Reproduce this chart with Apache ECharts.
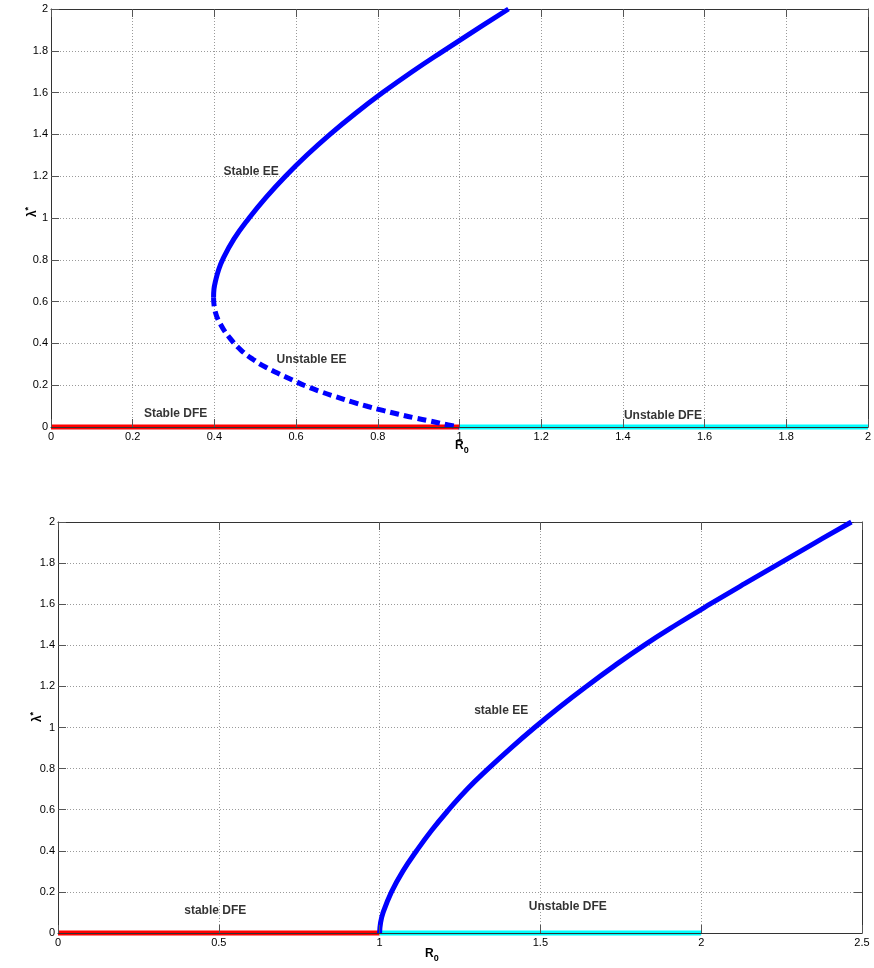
<!DOCTYPE html>
<html>
<head>
<meta charset="utf-8">
<script src="https://cdn.jsdelivr.net/npm/echarts@6/dist/echarts.min.js"></script>
<style>
  html, body { margin: 0; padding: 0; background: #fff; }
  #chart { width: 874px; height: 968px; }
</style>
</head>
<body>
<div id="chart"></div>
<script>
// ---- Upper panel: backward bifurcation ----
const topXTicks = { min: 0, max: 2, interval: 0.2 };
const topYTicks = { min: 0, max: 2, interval: 0.2 };

// stable endemic branch (from the turning point upward)
const topStableR0  = [0.398, 0.399, 0.403, 0.410, 0.420, 0.448, 0.485, 0.527, 0.574, 0.626, 0.683, 0.745, 0.812, 0.884, 0.961, 1.040, 1.120];
const topStableLam = [0.620, 0.660, 0.700, 0.750, 0.800, 0.900, 1.000, 1.100, 1.200, 1.300, 1.400, 1.500, 1.600, 1.700, 1.800, 1.900, 2.000];

// unstable endemic branch (from the turning point down to R0 = 1)
const topUnstableR0  = [0.398, 0.402, 0.416, 0.438, 0.465, 0.495, 0.526, 0.559, 0.591, 0.624, 0.656, 0.697, 0.737, 0.776, 0.815, 0.851, 0.889, 0.929, 0.965, 1.000];
const topUnstableLam = [0.620, 0.552, 0.488, 0.425, 0.368, 0.323, 0.286, 0.254, 0.225, 0.196, 0.172, 0.145, 0.120, 0.098, 0.078, 0.061, 0.044, 0.028, 0.013, 0.000];

// disease-free equilibrium
const topDfeStableR0   = [0, 1];
const topDfeUnstableR0 = [1, 2];
const dfeLam = [0, 0];

const topNoteText = ['Stable EE', 'Unstable EE', 'Stable DFE', 'Unstable DFE'];
const topNoteR0   = [0.490, 0.638, 0.305, 1.498];
const topNoteLam  = [1.221, 0.324, 0.062, 0.053];

// ---- Lower panel: forward bifurcation ----
const botXTicks = { min: 0, max: 2.5, interval: 0.5 };
const botYTicks = { min: 0, max: 2, interval: 0.2 };

const botStableR0  = [1.000, 1.003, 1.011, 1.037, 1.072, 1.115, 1.162, 1.215, 1.272, 1.338, 1.408, 1.482, 1.560, 1.643, 1.730, 1.822, 1.922, 2.027, 2.135, 2.245, 2.355, 2.467];
const botStableLam = [0.000, 0.050, 0.100, 0.200, 0.300, 0.400, 0.500, 0.600, 0.700, 0.800, 0.900, 1.000, 1.100, 1.200, 1.300, 1.400, 1.500, 1.600, 1.700, 1.800, 1.900, 2.000];

const botDfeStableR0   = [0, 1];
const botDfeUnstableR0 = [1, 2];

const botNoteText = ['stable EE', 'stable DFE', 'Unstable DFE'];
const botNoteR0   = [1.378, 0.489, 1.585];
const botNoteLam  = [1.080, 0.111, 0.126];

// ---- helpers ----
const FONT = 'Liberation Sans, Arial, Helvetica, sans-serif';
const zip = (xs, ys) => xs.map((x, i) => [x, ys[i]]);
const notes = (txt, xs, ys) => txt.map((t, i) => ({ name: t, value: [xs[i], ys[i]] }));

function axesFor(gridIndex, xt, yt) {
  const tick = { show: true, inside: true, length: 8, lineStyle: { color: '#555', width: 1 } };
  const line = { show: true, onZero: false, lineStyle: { color: '#333', width: 1 } };
  const dots = { show: true, lineStyle: { color: '#9a9a9a', width: 1, type: [1, 2] } };
  const lab = { fontFamily: FONT, fontSize: 11, color: '#000' };
  return {
    x: [
      { // bottom: labels and frame, drawn above the data
        type: 'value', gridIndex, position: 'bottom', ...xt, z: 10,
        axisLine: line, axisTick: tick, splitLine: { show: false },
        axisLabel: { ...lab, margin: 4 }
      },
      { // top: frame and dotted grid, under the data
        type: 'value', gridIndex, position: 'top', ...xt,
        axisLine: line, axisTick: tick, splitLine: dots, axisLabel: { show: false }
      }
    ],
    y: [
      {
        type: 'value', gridIndex, position: 'left', ...yt,
        axisLine: line, axisTick: tick, splitLine: dots,
        axisLabel: { ...lab, margin: 3 }
      },
      {
        type: 'value', gridIndex, position: 'right', ...yt,
        axisLine: line, axisTick: tick, splitLine: { show: false }, axisLabel: { show: false }
      }
    ]
  };
}

const a0 = axesFor(0, topXTicks, topYTicks);
const a1 = axesFor(1, botXTicks, botYTicks);

function lineSeries(xi, yi, data, color, extra) {
  return Object.assign({
    type: 'line', xAxisIndex: xi, yAxisIndex: yi, data,
    showSymbol: false, symbol: 'none', clip: false, smooth: 0.45,
    lineStyle: { color, width: 5, cap: 'butt', join: 'round' }, z: 3
  }, extra || {});
}

function noteSeries(xi, yi, data) {
  return {
    type: 'scatter', xAxisIndex: xi, yAxisIndex: yi, data,
    symbolSize: 0, z: 6, silent: true,
    label: {
      show: true, position: 'inside', formatter: '{b}',
      fontFamily: FONT, fontSize: 12, fontWeight: 'bold', color: '#000',
      textBorderWidth: 0
    }
  };
}

const subRich = {
  r: { fontFamily: FONT, fontSize: 12, fontWeight: 'bold', fill: '#000', verticalAlign: 'top' },
  s: { fontFamily: FONT, fontSize: 9, fontWeight: 'bold', fill: '#000', verticalAlign: 'top', padding: [6, 0, 0, 0] }
};
const supRich = {
  l: { fontFamily: FONT, fontSize: 12, fontWeight: 'bold', fill: '#000', verticalAlign: 'bottom' },
  s: { fontFamily: FONT, fontSize: 9, fontWeight: 'bold', fill: '#000', verticalAlign: 'bottom', padding: [0, 0, 6, 0] }
};

const option = {
  backgroundColor: '#fff',
  animation: false,
  grid: [
    { left: 51, top: 9, width: 820, height: 418 },
    { left: 58, top: 522, width: 804, height: 411 }
  ],
  xAxis: [...a0.x, ...a1.x],
  yAxis: [...a0.y, ...a1.y],
  series: [
    // upper panel
    lineSeries(0, 0, zip(topDfeStableR0, dfeLam), '#ff0000', { smooth: false }),
    lineSeries(0, 0, zip(topDfeUnstableR0, dfeLam), '#00ffff', { smooth: false }),
    lineSeries(0, 0, zip(topStableR0, topStableLam), '#0000ff'),
    lineSeries(0, 0, zip(topUnstableR0, topUnstableLam), '#0000ff',
      { lineStyle: { color: '#0000ff', width: 5, type: [9, 5], cap: 'butt' } }),
    noteSeries(0, 0, notes(topNoteText, topNoteR0, topNoteLam)),
    // lower panel
    lineSeries(2, 2, zip(botDfeStableR0, dfeLam), '#ff0000', { smooth: false }),
    lineSeries(2, 2, zip(botDfeUnstableR0, dfeLam), '#00ffff', { smooth: false }),
    lineSeries(2, 2, zip(botStableR0, botStableLam), '#0000ff'),
    noteSeries(2, 2, notes(botNoteText, botNoteR0, botNoteLam))
  ],
  graphic: [
    { type: 'text', left: 455, top: 440, style: { text: '{r|R}{s|0}', rich: subRich } },
    { type: 'text', left: 425, top: 948, style: { text: '{r|R}{s|0}', rich: subRich } },
    { type: 'text', x: 39, y: 212, rotation: Math.PI / 2,
      style: { text: '{l|λ}{s|*}', align: 'center', verticalAlign: 'bottom', rich: supRich } },
    { type: 'text', x: 44, y: 717, rotation: Math.PI / 2,
      style: { text: '{l|λ}{s|*}', align: 'center', verticalAlign: 'bottom', rich: supRich } }
  ]
};

const chart = echarts.init(document.getElementById('chart'), null, { renderer: 'canvas' });
chart.setOption(option);
</script>
</body>
</html>
